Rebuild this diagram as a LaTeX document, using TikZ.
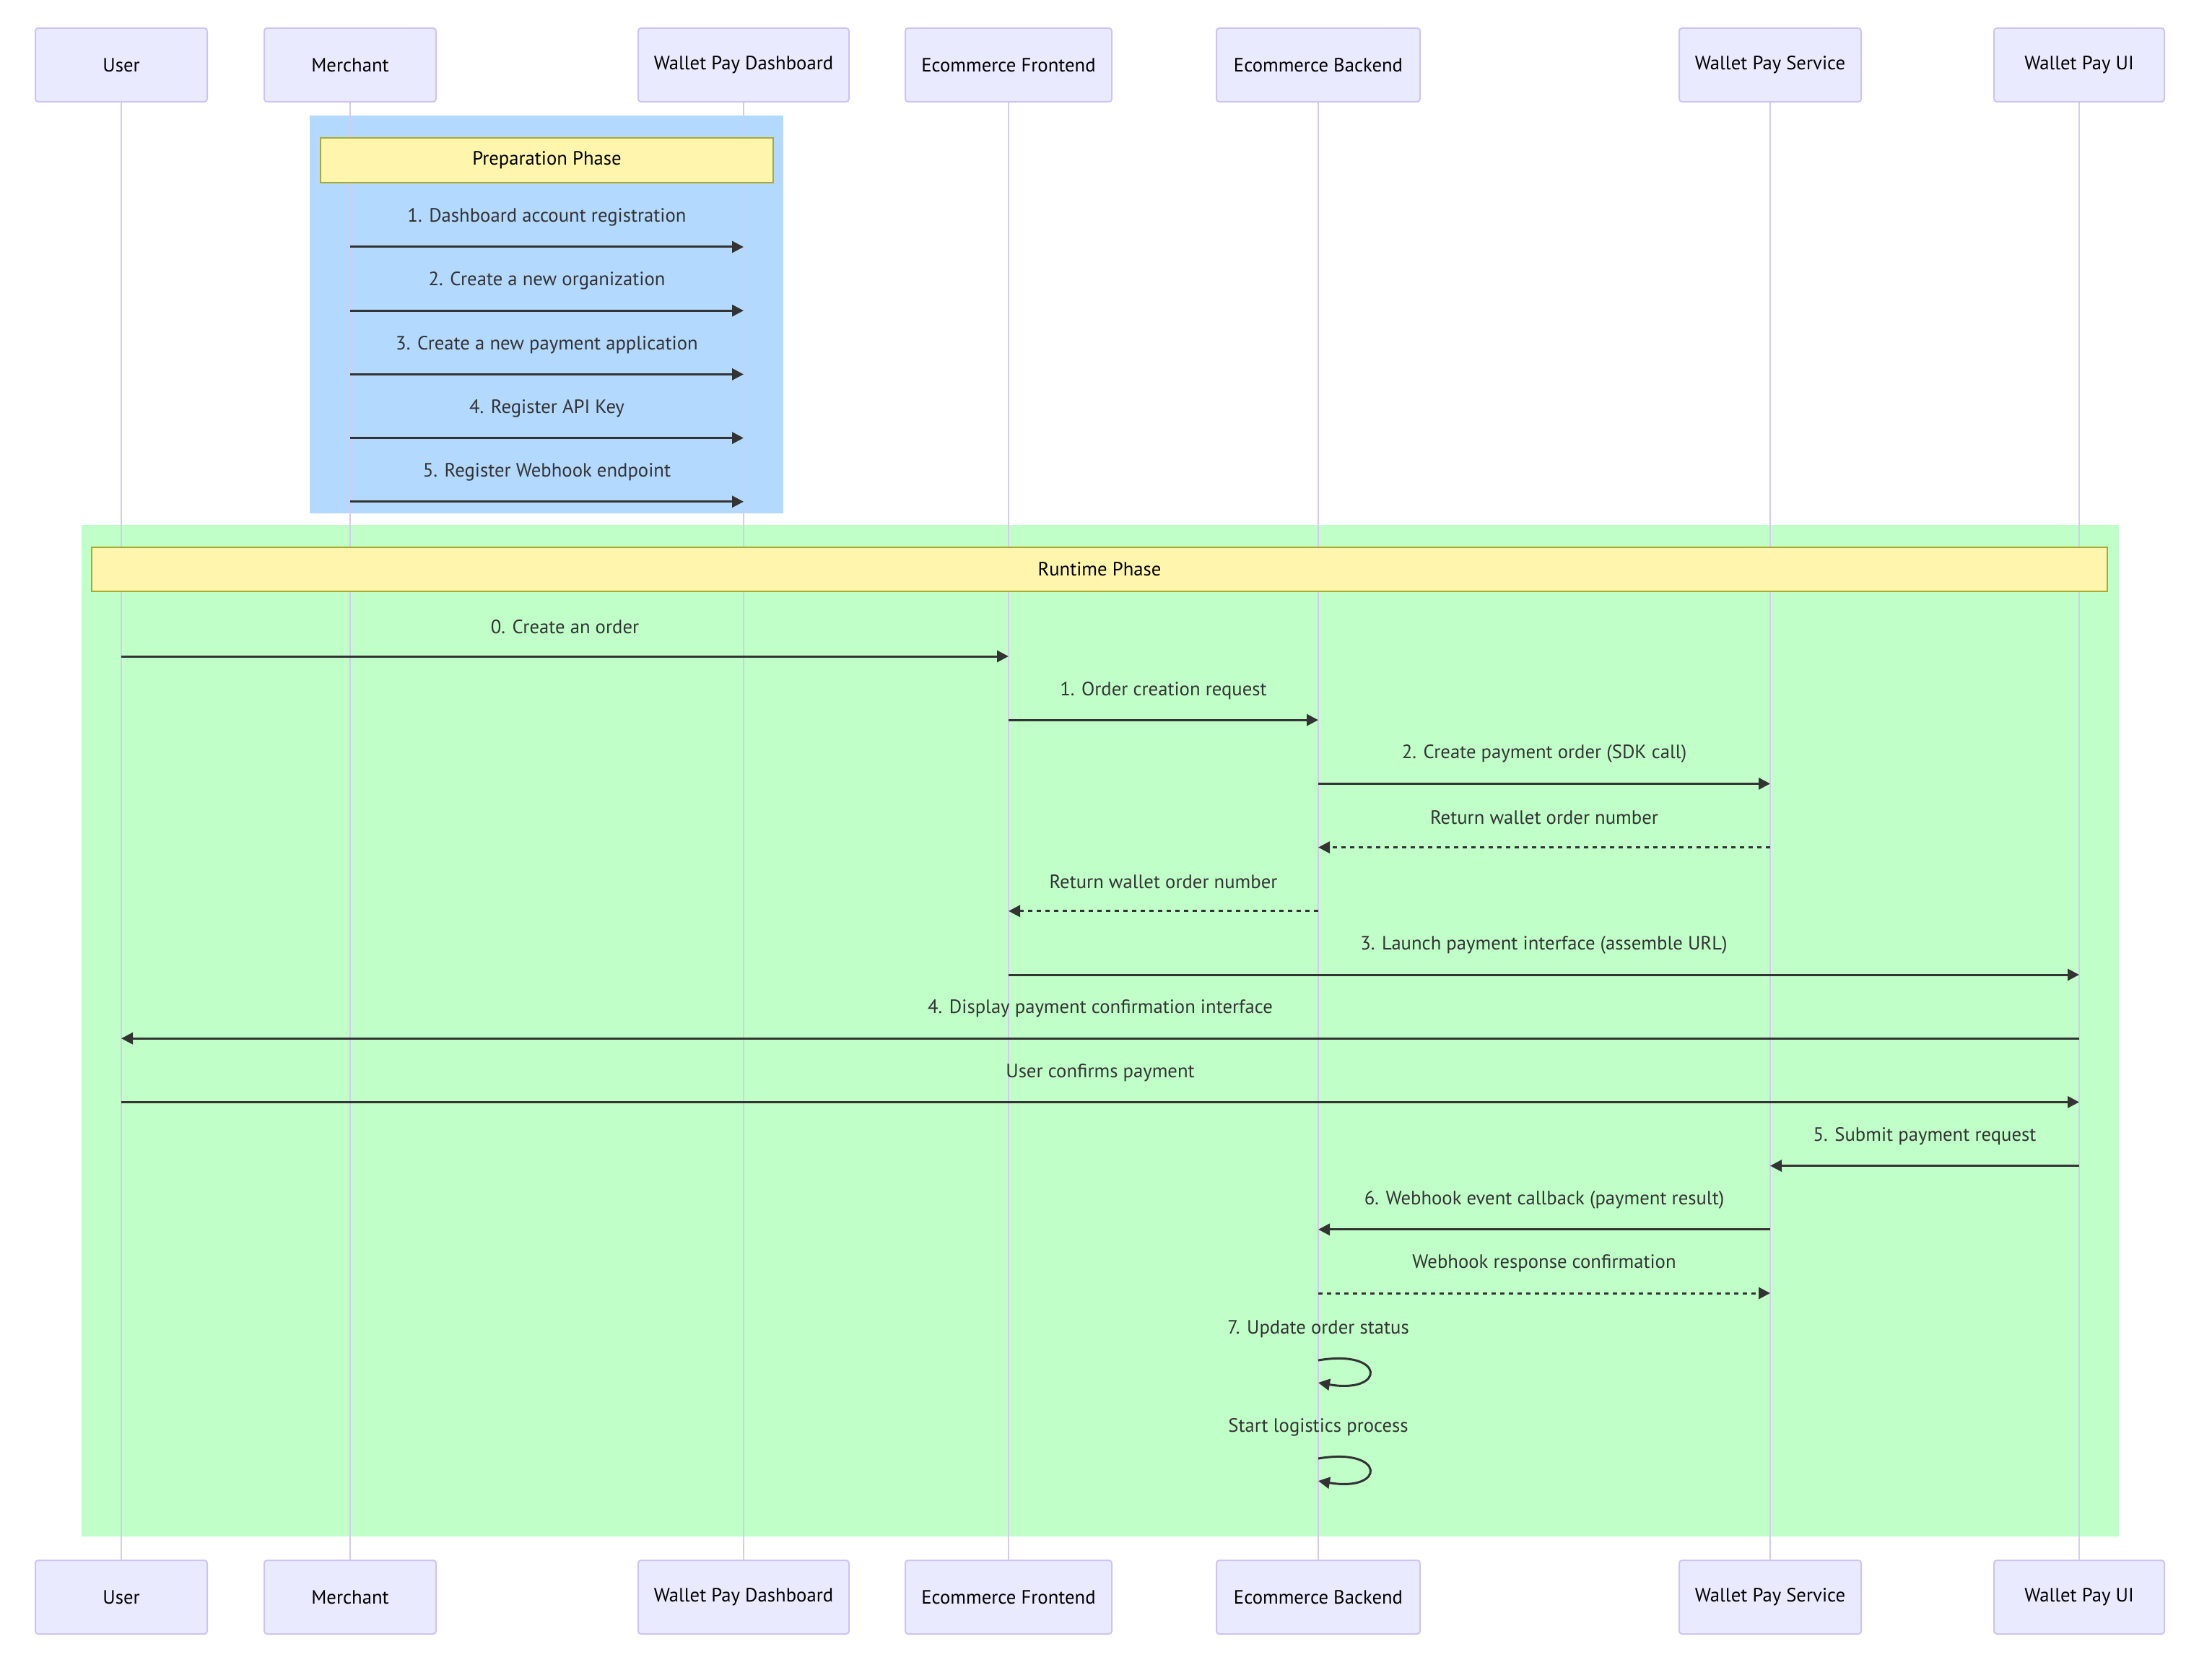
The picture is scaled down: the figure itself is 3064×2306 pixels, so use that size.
\documentclass[tikz,border=0pt]{standalone}
\usepackage{fontspec}
\setmainfont{PT Sans}
\usetikzlibrary{arrows.meta,calc}
\definecolor{actfill}{HTML}{EAEAFF}
\definecolor{actstroke}{HTML}{CFC3F0}
\definecolor{lifecol}{HTML}{D5CAF2}
\definecolor{arrcol}{HTML}{333333}
\definecolor{txtcol}{HTML}{333333}
\definecolor{notefill}{HTML}{FFF5AD}
\definecolor{notestroke}{HTML}{AAAA33}
\definecolor{bluecol}{HTML}{B3D9FE}
\definecolor{greencol}{HTML}{C0FFC8}
\newcommand{\dgfont}{\fontsize{26.7}{31}\selectfont}
\begin{document}
\begin{tikzpicture}[x=1pt,y=-1pt,
  actor/.style={draw=actstroke, fill=actfill, rounded corners=4pt, line width=2pt, minimum height=102pt, inner sep=0pt, font=\dgfont, text=black},
  lifeline/.style={draw=lifecol, line width=2.5pt},
  msg/.style={draw=arrcol, line width=3pt, -{Triangle[length=16pt,width=16pt]}},
  ret/.style={msg, dash pattern=on 6pt off 6pt},
  lbl/.style={font=\dgfont, text=txtcol, inner sep=0pt},
  notebox/.style={draw=notestroke, fill=notefill, line width=1.5pt, inner sep=0pt, font=\dgfont, text=black}
]
\useasboundingbox (0,0) rectangle (3064,2306);
\fill[white] (0,0) rectangle (3064,2306);

% phase backgrounds
\fill[bluecol] (429,160) rectangle (1085,711);
\fill[greencol] (113,727) rectangle (2935,2128);

% actors
\foreach \n/\x/\w/\t in {user/168/238/User, merch/485/238/Merchant, dash/1030/292/Wallet Pay Dashboard, front/1397/286/Ecommerce Frontend, back/1826/282/Ecommerce Backend, serv/2452/252/Wallet Pay Service, wui/2880/236/Wallet Pay UI}{
  \node[actor, minimum width=\w pt] (\n T) at (\x,90) {\t};
  \node[actor, minimum width=\w pt] (\n B) at (\x,2212) {\t};
  \draw[lifeline] (\n T.south) -- (\n B.north);
}

% notes
\node[notebox, minimum width=627pt, minimum height=62pt] (prepnote) at (757.5,222) {Preparation Phase};
\node[notebox, minimum width=2792pt, minimum height=61pt] (runnote) at (1523,788.5) {Runtime Phase};

% row coordinates
\foreach \i/\y in {p1/342, p2/430.2, p3/518.4, p4/606.6, p5/694.8, r0/909, r1/997.2, r2/1085.4, r3/1173.6, r4/1261.8, r5/1350, r6/1438.2, r7/1526.4, r8/1614.6, r9/1702.8, r10/1791, l1a/1884, l1b/1915, l2a/2020, l2b/2051}{
  \coordinate (\i) at (0,\y);
}

% preparation messages
\draw[msg] (merchT |- p1) -- node[lbl, yshift=41pt] {1. Dashboard account registration} (dashT |- p1);
\draw[msg] (merchT |- p2) -- node[lbl, yshift=41pt] {2. Create a new organization} (dashT |- p2);
\draw[msg] (merchT |- p3) -- node[lbl, yshift=41pt] {3. Create a new payment application} (dashT |- p3);
\draw[msg] (merchT |- p4) -- node[lbl, yshift=41pt] {4. Register API Key} (dashT |- p4);
\draw[msg] (merchT |- p5) -- node[lbl, yshift=41pt] {5. Register Webhook endpoint} (dashT |- p5);

% runtime messages
\draw[msg] (userT |- r0) -- node[lbl, yshift=41pt] {0. Create an order} (frontT |- r0);
\draw[msg] (frontT |- r1) -- node[lbl, yshift=41pt] {1. Order creation request} (backT |- r1);
\draw[msg] (backT |- r2) -- node[lbl, yshift=41pt] {2. Create payment order (SDK call)} (servT |- r2);
\draw[ret] (servT |- r3) -- node[lbl, yshift=41pt] {Return wallet order number} (backT |- r3);
\draw[ret] (backT |- r4) -- node[lbl, yshift=41pt] {Return wallet order number} (frontT |- r4);
\draw[msg] (frontT |- r5) -- node[lbl, yshift=41pt] {3. Launch payment interface (assemble URL)} (wuiT |- r5);
\draw[msg] (wuiT |- r6) -- node[lbl, yshift=41pt] {4. Display payment confirmation interface} (userT |- r6);
\draw[msg] (userT |- r7) -- node[lbl, yshift=41pt] {User confirms payment} (wuiT |- r7);
\draw[msg] (wuiT |- r8) -- node[lbl, yshift=41pt] {5. Submit payment request} (servT |- r8);
\draw[msg] (servT |- r9) -- node[lbl, yshift=41pt] {6. Webhook event callback (payment result)} (backT |- r9);
\draw[ret] (backT |- r10) -- node[lbl, yshift=41pt] {Webhook response confirmation} (servT |- r10);

% self messages
\node[lbl] (selflbl1) at ($(backT |- l1a)+(0,-43)$) {7. Update order status};
\draw[msg] (backT |- l1a) .. controls +(94,-16) and +(94,16) .. (backT |- l1b);
\node[lbl] (selflbl2) at ($(backT |- l2a)+(0,-43)$) {Start logistics process};
\draw[msg] (backT |- l2a) .. controls +(94,-16) and +(94,16) .. (backT |- l2b);
\end{tikzpicture}
\end{document}
